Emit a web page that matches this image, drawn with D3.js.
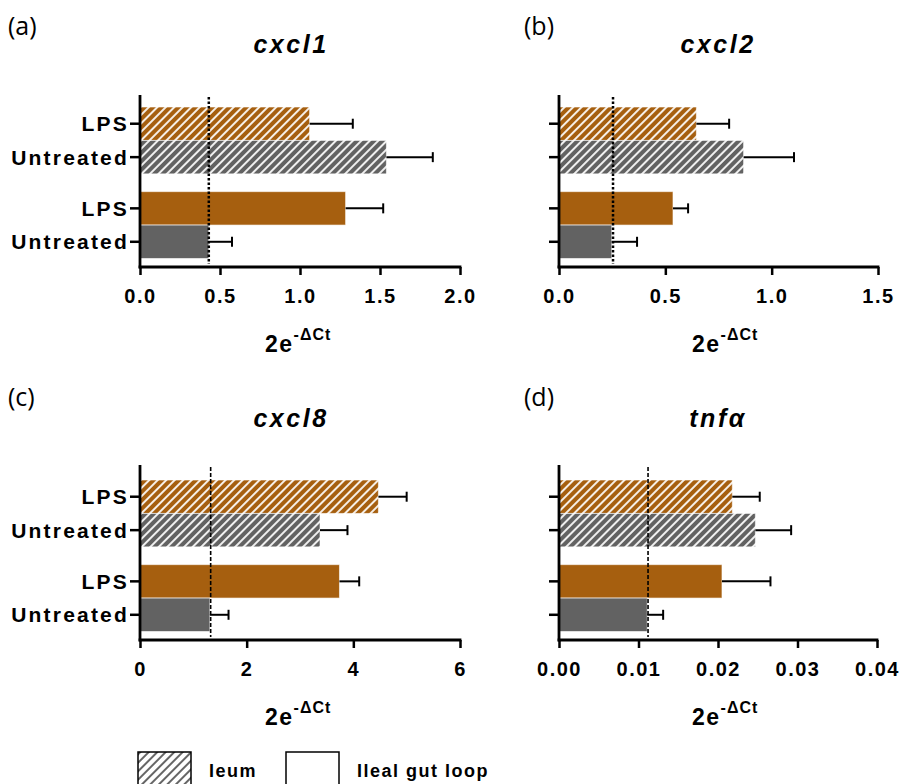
<!DOCTYPE html>
<html><head><meta charset="utf-8">
<script src="https://cdn.jsdelivr.net/npm/d3@7"></script>
<style>body{margin:0;background:#fff}svg{display:block}text{font-family:"Liberation Sans",Arial,sans-serif}</style>
</head><body>
<script>
// ---- data ----
const treatments = ["LPS", "Untreated"];
const tissues = ["Ileum", "Ileal gut loop"];
const genes = ["cxcl1", "cxcl2", "cxcl8", "tnfα"];
const panelLabels = ["(a)", "(b)", "(c)", "(d)"];
// order: [Ileum LPS, Ileum Untreated, Loop LPS, Loop Untreated]
const cxcl1Mean = [1.06, 1.54, 1.285, 0.43];
const cxcl1Sem  = [0.27, 0.29, 0.235, 0.145];
const cxcl2Mean = [0.646, 0.868, 0.536, 0.248];
const cxcl2Sem  = [0.154, 0.237, 0.071, 0.119];
const cxcl8Mean = [4.47, 3.375, 3.74, 1.31];
const cxcl8Sem  = [0.53, 0.515, 0.37, 0.35];
const tnfMean   = [0.0218, 0.0247, 0.0205, 0.0111];
const tnfSem    = [0.00345, 0.0045, 0.0061, 0.002];
const refLine   = [0.43, 0.254, 1.325, 0.0112];
const xMax      = [2.0, 1.5, 6, 0.04];
const xTicks1 = [0, 0.5, 1.0, 1.5, 2.0];
const xTicks2 = [0, 0.5, 1.0, 1.5];
const xTicks3 = [0, 2, 4, 6];
const xTicks4 = [0, 0.01, 0.02, 0.03, 0.04];
const tickFormats = [".1f", ".1f", "d", ".2f"];

const means = [cxcl1Mean, cxcl2Mean, cxcl8Mean, tnfMean];
const sems = [cxcl1Sem, cxcl2Sem, cxcl8Sem, tnfSem];
const ticksAll = [xTicks1, xTicks2, xTicks3, xTicks4];

// ---- layout ----
const W = 901, H = 784;
const ORANGE = "#a65f0f", GRAY = "#626262";
const FONT = "'Liberation Sans', Arial, sans-serif";
const panels = [
  {x0: 140, x1: 460, axisY: 267, top: 95, labelX: 8, labelY: 35, titleX: 291, titleY: 53, dash: "2.5,2", dw: 2.5},
  {x0: 559, x1: 878, axisY: 267, top: 95, labelX: 524, labelY: 35, titleX: 718, titleY: 53, dash: "2.5,2", dw: 2.5},
  {x0: 140, x1: 460, axisY: 640, top: 465, labelX: 8, labelY: 406, titleX: 291, titleY: 427, dash: "4,2", dw: 1.6},
  {x0: 559, x1: 877, axisY: 640, top: 465, labelX: 524, labelY: 406, titleX: 718, titleY: 427, dash: "4,2", dw: 1.6}
];

const svg = d3.select("body").append("svg").attr("width", W).attr("height", H);
const defs = svg.append("defs");
function hatch(id, bg, fg, lw) {
  const p = defs.append("pattern").attr("id", id).attr("patternUnits", "userSpaceOnUse")
    .attr("width", 6).attr("height", 6).attr("patternTransform", "rotate(45)");
  if (bg) p.append("rect").attr("width", 6).attr("height", 6).attr("fill", bg);
  p.append("line").attr("x1", 1).attr("x2", 1).attr("y1", 0).attr("y2", 6)
    .attr("stroke", fg).attr("stroke-width", lw);
}
hatch("hatchO", ORANGE, "#fff", 1.8);
hatch("hatchG", GRAY, "#fff", 1.8);
hatch("hatchL", "#fff", "#000", 1.2);

const fill = (tissue, trt) => tissue === 0
  ? (trt === 0 ? "url(#hatchO)" : "url(#hatchG)")
  : (trt === 0 ? ORANGE : GRAY);

panels.forEach((P, gi) => {
  const g = svg.append("g");
  const x = d3.scaleLinear().domain([0, xMax[gi]]).range([P.x0, P.x1]);
  const yGroup = d3.scaleBand().domain(tissues).range([P.axisY - 160, P.axisY - 8.5]).paddingInner(0.21);
  const yIn = d3.scaleBand().domain(treatments).range([0, yGroup.bandwidth()]);

  const rows = [];
  tissues.forEach((t, ti) => treatments.forEach((tr, ri) => {
    const k = ti * 2 + ri;
    rows.push({tissue: t, ti, trt: tr, ri, mean: means[gi][k], sem: sems[gi][k]});
  }));

  // bars
  g.selectAll("rect.bar").data(rows).join("rect")
    .attr("x", x(0))
    .attr("y", d => yGroup(d.tissue) + yIn(d.trt))
    .attr("width", d => x(d.mean) - x(0))
    .attr("height", yIn.bandwidth())
    .attr("fill", d => fill(d.ti, d.ri))
    .attr("stroke", "#fff").attr("stroke-opacity", 0.6).attr("stroke-width", 1);

  // error bars
  const cy = d => yGroup(d.tissue) + yIn(d.trt) + yIn.bandwidth() / 2;
  g.selectAll("line.err").data(rows).join("line")
    .attr("x1", d => x(d.mean)).attr("x2", d => x(d.mean + d.sem))
    .attr("y1", cy).attr("y2", cy)
    .attr("stroke", "#000").attr("stroke-width", 2);
  g.selectAll("line.cap").data(rows).join("line")
    .attr("x1", d => x(d.mean + d.sem)).attr("x2", d => x(d.mean + d.sem))
    .attr("y1", d => cy(d) - 5).attr("y2", d => cy(d) + 5)
    .attr("stroke", "#000").attr("stroke-width", 2);

  // reference line
  g.append("line").attr("x1", x(refLine[gi])).attr("x2", x(refLine[gi]))
    .attr("y1", P.top + 2).attr("y2", P.axisY - 3)
    .attr("stroke", "#000").attr("stroke-width", P.dw).attr("stroke-dasharray", P.dash);

  // x axis
  const xa = g.append("g").attr("transform", `translate(0,${P.axisY})`)
    .call(d3.axisBottom(x).tickValues(ticksAll[gi]).tickFormat(d3.format(tickFormats[gi])).tickSize(8).tickSizeOuter(0));
  xa.attr("font-family", FONT);
  xa.select(".domain").attr("stroke-width", 2.8).attr("d", `M${P.x0 - 1.4},0H${P.x1 + 1.4}`);
  xa.selectAll(".tick line").attr("stroke-width", 2.5);
  xa.selectAll(".tick text").attr("dy", 0).attr("y", 36)
    .style("font-size", "20px").style("font-weight", "bold").style("letter-spacing", "1.5px")
    .attr("fill", "#000");

  // y axis
  const ya = g.append("g");
  ya.append("line").attr("x1", P.x0).attr("x2", P.x0).attr("y1", P.top).attr("y2", P.axisY + 1.4)
    .attr("stroke", "#000").attr("stroke-width", 2.8);
  ya.selectAll("line.yt").data(rows).join("line")
    .attr("x1", P.x0 - 10).attr("x2", P.x0)
    .attr("y1", cy).attr("y2", cy)
    .attr("stroke", "#000").attr("stroke-width", 2.5);
  if (gi === 0 || gi === 2) {
    ya.selectAll("text.yl").data(rows).join("text")
      .attr("x", P.x0 - 11).attr("y", d => cy(d) + 7.5)
      .attr("text-anchor", "end")
      .style("font-size", "21px").style("font-weight", "bold").style("letter-spacing", "2.2px")
      .text(d => d.trt);
  }

  // axis title 2e^-ΔCt
  const t = g.append("text").attr("x", P.titleX - 26).attr("y", P.axisY + 85)
    .attr("text-anchor", "start").style("font-weight", "bold");
  t.append("tspan").style("font-size", "23px").style("letter-spacing", "1.5px").text("2e");
  t.append("tspan").attr("dy", -12).style("font-size", "16px").style("letter-spacing", "1px").text("-ΔCt");

  // gene title
  g.append("text").attr("x", P.titleX).attr("y", P.titleY).attr("text-anchor", "middle")
    .style("font-size", "25px").style("font-weight", "bold").style("font-style", "italic")
    .style("letter-spacing", "2.5px").text(genes[gi]);

  // panel label
  g.append("text").attr("x", P.labelX).attr("y", P.labelY)
    .style("font-size", "25px").style("font-family", "'Open Sans', sans-serif").text(panelLabels[gi]);
});

// legend
const leg = svg.append("g");
const legendItems = [{name: "Ieum", fill: "url(#hatchL)", bx: 138, tx: 209},
                     {name: "Ileal gut loop", fill: "#fff", bx: 286, tx: 357}];
leg.selectAll("rect").data(legendItems).join("rect")
  .attr("x", d => d.bx).attr("y", 752).attr("width", 53).attr("height", 40)
  .attr("fill", d => d.fill).attr("stroke", "#000").attr("stroke-width", 1.5);
leg.selectAll("text").data(legendItems).join("text")
  .attr("x", d => d.tx).attr("y", 777)
  .style("font-size", "18px").style("font-weight", "bold").style("letter-spacing", "1.5px")
  .text(d => d.name);
</script>
</body></html>
